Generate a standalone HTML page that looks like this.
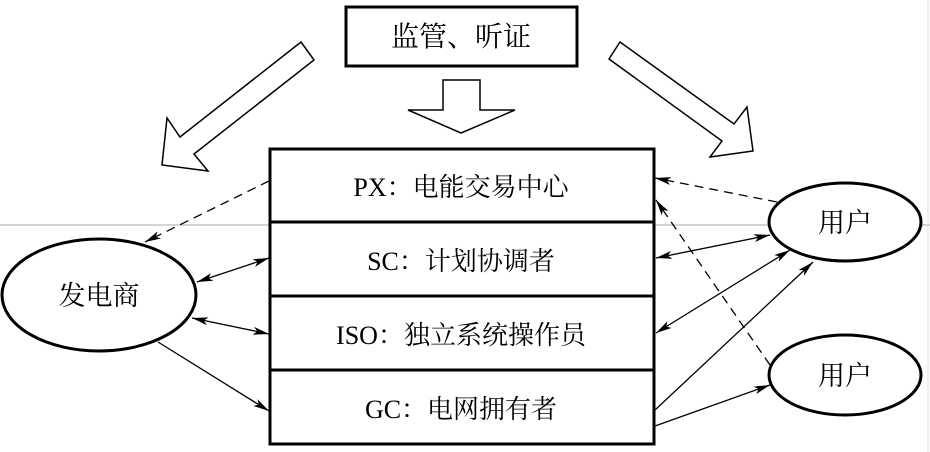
<!DOCTYPE html>
<html><head><meta charset="utf-8"><style>
html,body{margin:0;padding:0;background:#fff;}
svg{display:block;}
text{font-family:"Liberation Serif","Noto Serif CJK SC","Noto Sans CJK SC",serif;fill:#000;}
</style></head><body>
<svg width="930" height="452" viewBox="0 0 930 452" xmlns="http://www.w3.org/2000/svg">
<defs>
<marker id="a" viewBox="0 0 16 8" refX="16" refY="4" markerWidth="16" markerHeight="8" markerUnits="userSpaceOnUse" orient="auto-start-reverse">
<path d="M0,0 L16,4 L0,8 L4,4 Z" fill="#000"/>
</marker>
</defs>
<line x1="0" y1="225" x2="930" y2="225" stroke="#aaa" stroke-width="1"/>
<line x1="928" y1="0" x2="928" y2="452" stroke="#ddd" stroke-width="1"/>
<rect x="346" y="7" width="231" height="59" fill="#fff" stroke="#000" stroke-width="3"/>
<text x="461" y="46" font-size="28" text-anchor="middle">监管、听证</text>
<polygon points="443,80 480,80 480,110 515,110 461,133 408,110 443,110" fill="#fff" stroke="#000" stroke-width="1.5"/>
<polygon points="301,42 314,60 194,154 208,171 162,165 167,118 180,137" fill="#fff" stroke="#000" stroke-width="1.5"/>
<polygon points="620,42 734,124 747,107 753,151 710,157 722,141 609,59" fill="#fff" stroke="#000" stroke-width="1.5"/>
<rect x="270" y="149" width="384" height="295" fill="#fff" stroke="#000" stroke-width="3"/>
<line x1="270" y1="222" x2="654" y2="222" stroke="#000" stroke-width="3"/>
<line x1="270" y1="296" x2="654" y2="296" stroke="#000" stroke-width="3"/>
<line x1="270" y1="370" x2="654" y2="370" stroke="#000" stroke-width="3"/>
<text x="461" y="196" font-size="26" text-anchor="middle">PX：电能交易中心</text>
<text x="461" y="270" font-size="26" text-anchor="middle">SC：计划协调者</text>
<text x="461" y="344" font-size="26" text-anchor="middle">ISO：独立系统操作员</text>
<text x="461" y="418" font-size="26" text-anchor="middle">GC：电网拥有者</text>
<ellipse cx="99" cy="295" rx="97" ry="56" fill="#fff" stroke="#000" stroke-width="3"/>
<text x="99" y="305" font-size="27" text-anchor="middle">发电商</text>
<ellipse cx="845" cy="222" rx="76" ry="39" fill="#fff" stroke="#000" stroke-width="3"/>
<text x="845" y="232" font-size="27" text-anchor="middle">用户</text>
<ellipse cx="845" cy="375" rx="76" ry="40" fill="#fff" stroke="#000" stroke-width="3"/>
<text x="845" y="385" font-size="27" text-anchor="middle">用户</text>
<g stroke="#000" stroke-width="1.3" fill="none">
<line x1="269" y1="181" x2="145" y2="242" stroke-dasharray="9,6" marker-end="url(#a)"/>
<line x1="197" y1="282" x2="269" y2="258" marker-start="url(#a)" marker-end="url(#a)"/>
<line x1="192" y1="318" x2="269" y2="334" marker-start="url(#a)" marker-end="url(#a)"/>
<line x1="158" y1="342" x2="269" y2="411" marker-end="url(#a)"/>
<line x1="777" y1="202" x2="655" y2="178" stroke-dasharray="9,6" marker-end="url(#a)"/>
<line x1="770" y1="235" x2="656" y2="258" marker-start="url(#a)" marker-end="url(#a)"/>
<line x1="790" y1="250" x2="656" y2="333" marker-start="url(#a)" marker-end="url(#a)"/>
<line x1="655" y1="410" x2="813" y2="262" marker-end="url(#a)"/>
<line x1="655" y1="426" x2="770" y2="385" marker-end="url(#a)"/>
<line x1="770" y1="365" x2="656" y2="200" stroke-dasharray="9,6" marker-end="url(#a)"/>
</g>
</svg>
</body></html>
